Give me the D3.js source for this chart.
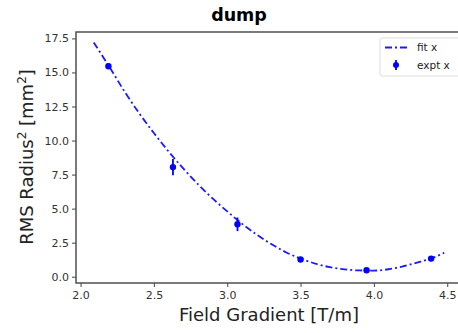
<!DOCTYPE html>
<html>
<head>
<meta charset="utf-8">
<script src="https://cdn.jsdelivr.net/npm/d3@7"></script>
<style>
  body { margin: 0; background: #fff; }
  text { font-family: "DejaVu Sans", sans-serif; }
</style>
</head>
<body>
<svg id="chart" width="458" height="333"></svg>
<script>
// measured points
var exptX = [2.19, 2.63, 3.07, 3.5, 3.95, 4.39];
var exptY = [15.45, 8.05, 3.85, 1.27, 0.48, 1.33];
var exptErr = [0.2, 0.6, 0.5, 0.1, 0.1, 0.1];

// fit curve
var fitX = [2.09, 2.2, 2.3, 2.4, 2.5, 2.6, 2.7, 2.8, 2.9, 3.0, 3.1, 3.2, 3.3,
            3.4, 3.5, 3.6, 3.7, 3.8, 3.9, 4.0, 4.1, 4.2, 4.3, 4.4, 4.48];
var fitY = [17.2, 15.35, 13.6, 12.0, 10.55, 9.2, 7.95, 6.8, 5.75, 4.8, 3.9, 3.1, 2.4,
            1.8, 1.33, 0.97, 0.7, 0.54, 0.46, 0.45, 0.55, 0.77, 1.05, 1.38, 1.76];

var xTicks = [2.0, 2.5, 3.0, 3.5, 4.0, 4.5];
var yTicks = [0.0, 2.5, 5.0, 7.5, 10.0, 12.5, 15.0, 17.5];

var svg = d3.select("#chart");
var plotL = 76, plotR = 460, plotT = 32, plotB = 283;

var x = d3.scaleLinear().domain([1.969, 4.587]).range([plotL, plotR]);
var y = d3.scaleLinear().domain([-0.46, 17.97]).range([plotB, plotT]);

// spines
svg.append("rect")
  .attr("x", plotL).attr("y", plotT)
  .attr("width", plotR - plotL).attr("height", plotB - plotT)
  .attr("fill", "none").attr("stroke", "#444").attr("stroke-width", 1.4);

var xAxis = svg.append("g")
  .attr("transform", "translate(0," + plotB + ")")
  .call(d3.axisBottom(x).tickValues(xTicks).tickFormat(d3.format(".1f")).tickSizeOuter(0).tickSize(4).tickPadding(4));
var yAxis = svg.append("g")
  .attr("transform", "translate(" + plotL + ",0)")
  .call(d3.axisLeft(y).tickValues(yTicks).tickFormat(d3.format(".1f")).tickSizeOuter(0).tickSize(4).tickPadding(3));

[xAxis, yAxis].forEach(function(g) {
  g.select(".domain").remove();
  g.selectAll(".tick line").attr("stroke", "#444");
  g.selectAll(".tick text")
    .attr("fill", "#333")
    .style("font-size", "11px")
    .style("font-family", "DejaVu Sans, sans-serif");
});

// fit line
var line = d3.line()
  .x(function(d, i) { return x(fitX[i]); })
  .y(function(d) { return y(d); })
  .curve(d3.curveMonotoneX);

svg.append("path")
  .datum(fitY)
  .attr("d", line)
  .attr("fill", "none")
  .attr("stroke", "#1a1aff")
  .attr("stroke-width", 1.8)
  .attr("stroke-dasharray", "7,3,2,3");

// error bars + markers
var pts = svg.append("g");
exptX.forEach(function(px, i) {
  pts.append("line")
    .attr("x1", x(px)).attr("x2", x(px))
    .attr("y1", y(exptY[i] - exptErr[i])).attr("y2", y(exptY[i] + exptErr[i]))
    .attr("stroke", "#0000ff").attr("stroke-width", 1.8);
  pts.append("circle")
    .attr("cx", x(px)).attr("cy", y(exptY[i]))
    .attr("r", 3.2)
    .attr("fill", "#0000ff");
});

// legend
var leg = svg.append("g");
leg.append("rect")
  .attr("x", 380).attr("y", 38).attr("width", 84).attr("height", 38)
  .attr("rx", 2)
  .attr("fill", "#fff").attr("stroke", "#ddd");
leg.append("line")
  .attr("x1", 385).attr("x2", 408).attr("y1", 47.5).attr("y2", 47.5)
  .attr("stroke", "#1a1aff").attr("stroke-width", 1.8)
  .attr("stroke-dasharray", "7,3,2,3");
leg.append("text").attr("x", 417).attr("y", 51).text("fit x")
  .style("font-size", "10.5px").attr("fill", "#222");
leg.append("line")
  .attr("x1", 396).attr("x2", 396).attr("y1", 60).attr("y2", 70)
  .attr("stroke", "#0000ff").attr("stroke-width", 1.8);
leg.append("circle").attr("cx", 396).attr("cy", 65).attr("r", 3).attr("fill", "#0000ff");
leg.append("text").attr("x", 417).attr("y", 69).text("expt x")
  .style("font-size", "10.5px").attr("fill", "#222");

// title & labels
svg.append("text")
  .attr("x", 239).attr("y", 21)
  .attr("text-anchor", "middle")
  .style("font-size", "17.5px").style("font-weight", "bold")
  .attr("fill", "#000")
  .text("dump");

svg.append("text")
  .attr("x", 269).attr("y", 321)
  .attr("text-anchor", "middle")
  .style("font-size", "18px")
  .attr("fill", "#222")
  .text("Field Gradient [T/m]");

var yl = svg.append("text")
  .attr("transform", "translate(33,157) rotate(-90)")
  .attr("text-anchor", "middle")
  .style("font-size", "18px")
  .attr("fill", "#222");
yl.append("tspan").text("RMS Radius");
yl.append("tspan").attr("dy", -7).style("font-size", "12px").text("2");
yl.append("tspan").attr("dy", 7).text(" [mm");
yl.append("tspan").attr("dy", -7).style("font-size", "12px").text("2");
yl.append("tspan").attr("dy", 7).text("]");
</script>
</body>
</html>
